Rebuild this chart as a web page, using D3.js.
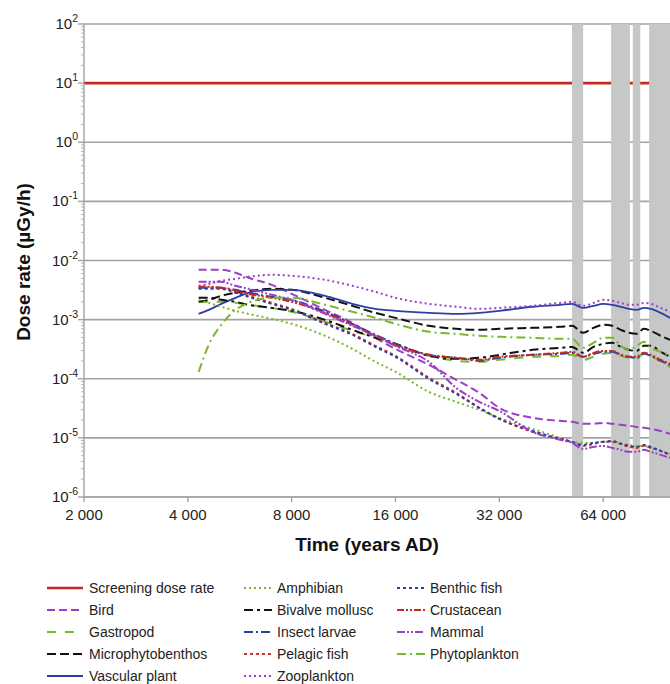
<!DOCTYPE html>
<html><head><meta charset="utf-8">
<script src="https://cdn.jsdelivr.net/npm/d3@7"></script>
<style>
html,body{margin:0;padding:0;background:#fff;}
svg{display:block;font-family:"Liberation Sans",Arial,sans-serif;}
</style></head>
<body><svg id="c" width="670" height="684"></svg>
<script>
// ---- data ----
const times = [4300, 4600, 5000, 5500, 6000, 7000, 8000, 10000, 12000, 14000, 16000, 20000, 24000, 28000, 32000, 40000, 48000, 52000, 56000, 60000, 64000, 68000, 72000, 76000, 80000, 84000, 88000, 94000, 100000];
const screeningTimes = [2000, 100000];
const screening = [10, 10];
const zooplankton = [3.73e-3, 4.03e-3, 4.53e-3, 4.90e-3, 5.30e-3, 5.73e-3, 5.51e-3, 4.71e-3, 3.73e-3, 2.95e-3, 2.34e-3, 1.85e-3, 1.65e-3, 1.52e-3, 1.58e-3, 1.71e-3, 1.92e-3, 2.00e-3, 1.71e-3, 1.92e-3, 2.16e-3, 2.08e-3, 1.92e-3, 1.78e-3, 1.78e-3, 1.92e-3, 1.85e-3, 1.58e-3, 1.36e-3];
const vascularPlant = [1.25e-3, 1.46e-3, 1.85e-3, 2.34e-3, 2.84e-3, 3.19e-3, 3.19e-3, 2.53e-3, 1.85e-3, 1.52e-3, 1.41e-3, 1.30e-3, 1.25e-3, 1.30e-3, 1.41e-3, 1.65e-3, 1.78e-3, 1.85e-3, 1.58e-3, 1.71e-3, 1.85e-3, 1.78e-3, 1.65e-3, 1.52e-3, 1.46e-3, 1.58e-3, 1.52e-3, 1.30e-3, 1.07e-3];
const microphytobenthos = [2.00e-3, 2.16e-3, 2.53e-3, 2.84e-3, 3.07e-3, 3.32e-3, 3.19e-3, 2.34e-3, 1.71e-3, 1.30e-3, 1.07e-3, 7.85e-4, 6.99e-4, 6.72e-4, 6.99e-4, 7.27e-4, 7.55e-4, 7.85e-4, 5.98e-4, 7.27e-4, 8.17e-4, 7.85e-4, 6.72e-4, 5.98e-4, 5.75e-4, 6.99e-4, 6.46e-4, 5.32e-4, 4.55e-4];
const bivalveMollusc = [2.34e-3, 2.34e-3, 2.16e-3, 2.00e-3, 1.78e-3, 1.58e-3, 1.41e-3, 9.92e-4, 6.72e-4, 4.92e-4, 3.90e-4, 2.44e-4, 2.17e-4, 2.26e-4, 2.54e-4, 3.08e-4, 3.33e-4, 3.46e-4, 2.74e-4, 3.46e-4, 3.90e-4, 4.05e-4, 3.46e-4, 3.08e-4, 2.96e-4, 3.60e-4, 3.60e-4, 2.85e-4, 2.35e-4];
const phytoplankton = [1.31e-4, 3.75e-4, 8.17e-4, 1.46e-3, 1.92e-3, 2.34e-3, 2.34e-3, 1.78e-3, 1.36e-3, 1.07e-3, 8.49e-4, 6.22e-4, 5.75e-4, 5.32e-4, 5.12e-4, 4.92e-4, 4.73e-4, 4.73e-4, 3.33e-4, 4.05e-4, 4.92e-4, 4.92e-4, 3.60e-4, 3.08e-4, 3.60e-4, 4.21e-4, 3.33e-4, 2.85e-4, 2.44e-4];
const gastropod = [2.00e-3, 2.00e-3, 2.00e-3, 1.92e-3, 1.78e-3, 1.58e-3, 1.36e-3, 9.18e-4, 6.46e-4, 4.92e-4, 3.60e-4, 2.44e-4, 2.01e-4, 1.93e-4, 2.09e-4, 2.35e-4, 2.44e-4, 2.54e-4, 2.09e-4, 2.35e-4, 2.64e-4, 2.74e-4, 2.44e-4, 2.26e-4, 2.17e-4, 2.74e-4, 2.44e-4, 1.93e-4, 1.59e-4];
const insectLarvae = [3.45e-3, 3.45e-3, 3.45e-3, 3.19e-3, 2.84e-3, 2.43e-3, 2.16e-3, 1.36e-3, 8.49e-4, 5.53e-4, 3.90e-4, 2.54e-4, 2.26e-4, 2.01e-4, 2.26e-4, 2.54e-4, 2.64e-4, 2.74e-4, 2.35e-4, 2.64e-4, 2.85e-4, 2.85e-4, 2.54e-4, 2.35e-4, 2.26e-4, 2.64e-4, 2.44e-4, 2.01e-4, 1.72e-4];
const crustacean = [3.59e-3, 3.59e-3, 3.45e-3, 3.07e-3, 2.73e-3, 2.34e-3, 2.00e-3, 1.30e-3, 8.17e-4, 5.32e-4, 3.75e-4, 2.54e-4, 2.26e-4, 2.09e-4, 2.35e-4, 2.54e-4, 2.74e-4, 2.85e-4, 2.35e-4, 2.74e-4, 2.96e-4, 2.96e-4, 2.54e-4, 2.35e-4, 2.35e-4, 2.74e-4, 2.54e-4, 2.09e-4, 1.79e-4];
const pelagicFish = [3.45e-3, 3.45e-3, 3.45e-3, 2.95e-3, 2.53e-3, 1.92e-3, 1.52e-3, 8.83e-4, 5.75e-4, 3.60e-4, 2.44e-4, 1.04e-4, 5.77e-5, 3.22e-5, 2.10e-5, 1.26e-5, 9.62e-6, 8.56e-6, 7.32e-6, 7.92e-6, 8.56e-6, 8.56e-6, 7.92e-6, 7.04e-6, 6.77e-6, 7.32e-6, 6.77e-6, 6.03e-6, 5.16e-6];
const benthicFish = [3.32e-3, 3.32e-3, 3.32e-3, 2.84e-3, 2.43e-3, 1.85e-3, 1.46e-3, 8.49e-4, 5.53e-4, 3.46e-4, 2.35e-4, 9.96e-5, 5.55e-5, 3.22e-5, 2.10e-5, 1.31e-5, 9.62e-6, 8.56e-6, 7.61e-6, 8.23e-6, 8.56e-6, 8.90e-6, 7.92e-6, 7.32e-6, 7.04e-6, 7.61e-6, 7.04e-6, 6.03e-6, 5.16e-6];
const amphibian = [2.16e-3, 1.92e-3, 1.65e-3, 1.41e-3, 1.25e-3, 1.03e-3, 8.49e-4, 5.32e-4, 3.20e-4, 1.93e-4, 1.31e-4, 6.00e-5, 4.06e-5, 2.98e-5, 2.18e-5, 1.42e-5, 1.00e-5, 8.56e-6, 8.23e-6, 8.23e-6, 8.56e-6, 8.56e-6, 8.23e-6, 7.61e-6, 7.32e-6, 7.32e-6, 6.77e-6, 6.03e-6, 5.36e-6];
const bird = [6.96e-3, 6.96e-3, 6.96e-3, 6.19e-3, 5.10e-3, 3.88e-3, 2.73e-3, 1.46e-3, 8.83e-4, 4.92e-4, 3.20e-4, 1.72e-4, 9.58e-5, 5.77e-5, 3.22e-5, 2.18e-5, 1.94e-5, 1.87e-5, 1.73e-5, 1.73e-5, 1.79e-5, 1.73e-5, 1.66e-5, 1.60e-5, 1.53e-5, 1.48e-5, 1.42e-5, 1.31e-5, 1.17e-5];
const mammal = [4.36e-3, 4.36e-3, 4.36e-3, 3.73e-3, 3.32e-3, 2.63e-3, 2.16e-3, 1.25e-3, 7.85e-4, 5.32e-4, 3.60e-4, 1.93e-4, 7.02e-5, 4.06e-5, 2.86e-5, 1.26e-5, 9.25e-6, 8.23e-6, 6.51e-6, 7.04e-6, 7.32e-6, 6.77e-6, 6.27e-6, 5.80e-6, 5.80e-6, 6.27e-6, 5.80e-6, 5.16e-6, 4.59e-6];
const bandStart = [52000, 67500, 78000, 87000];
const bandEnd = [56000, 76500, 82000, 100000];
const xTicks = [2000, 4000, 8000, 16000, 32000, 64000];
const yTicks = [1e-6, 1e-5, 1e-4, 1e-3, 1e-2, 1e-1, 1, 10, 100];

// ---- styles ----
const RED = "#c8281e", PURPLE = "#9a3fc9", GREEN = "#79b829", BLACK = "#111", BLUE = "#2f3ea6";
const series = [
  {name: "Screening dose rate", t: screeningTimes, v: screening, color: RED, dash: null, w: 2.6, col: 0, row: 0},
  {name: "Bird", t: times, v: bird, color: PURPLE, dash: "8,4", w: 2, col: 0, row: 1},
  {name: "Gastropod", t: times, v: gastropod, color: GREEN, dash: "9,9", w: 2, col: 0, row: 2},
  {name: "Microphytobenthos", t: times, v: microphytobenthos, color: BLACK, dash: "9,4", w: 2, col: 0, row: 3},
  {name: "Vascular plant", t: times, v: vascularPlant, color: BLUE, dash: null, w: 1.8, col: 0, row: 4},
  {name: "Amphibian", t: times, v: amphibian, color: GREEN, dash: "2,3", w: 2, col: 1, row: 0},
  {name: "Bivalve mollusc", t: times, v: bivalveMollusc, color: BLACK, dash: "9,4,3,4", w: 2, col: 1, row: 1},
  {name: "Insect larvae", t: times, v: insectLarvae, color: BLUE, dash: "9,3,2,3", w: 2, col: 1, row: 2},
  {name: "Pelagic fish", t: times, v: pelagicFish, color: "#d8352a", dash: "3,3", w: 2, col: 1, row: 3},
  {name: "Zooplankton", t: times, v: zooplankton, color: PURPLE, dash: "2,3", w: 2, col: 1, row: 4},
  {name: "Benthic fish", t: times, v: benthicFish, color: BLUE, dash: "3,3", w: 2, col: 2, row: 0},
  {name: "Crustacean", t: times, v: crustacean, color: RED, dash: "7,2,2,2,2,2", w: 2, col: 2, row: 1},
  {name: "Mammal", t: times, v: mammal, color: PURPLE, dash: "8,2,2,2,2,2", w: 2, col: 2, row: 2},
  {name: "Phytoplankton", t: times, v: phytoplankton, color: GREEN, dash: "9,4,2,4", w: 2, col: 2, row: 3}
];

// ---- layout ----
const L = 84, R = 670, T = 24, B = 497;
const svg = d3.select("#c");
const x = d3.scaleLog().base(2).domain([2000, 100000]).range([L, R]);
const y = d3.scaleLog().domain([1e-6, 100]).range([B, T]);
const GRID = "#a3a3a3";

// gridlines
svg.append("g").selectAll("line").data(yTicks).join("line")
  .attr("x1", L).attr("x2", R).attr("y1", d => y(d)).attr("y2", d => y(d))
  .attr("stroke", GRID).attr("stroke-width", 1.6);

// screening line (under bands)
const line = d3.line().x(d => x(d[0])).y(d => y(d[1])).curve(d3.curveMonotoneX);
const scr = series[0];
svg.append("path").attr("d", line(scr.t.map((t, i) => [t, scr.v[i]])))
  .attr("fill", "none").attr("stroke", scr.color).attr("stroke-width", scr.w);

// grey bands
svg.append("g").selectAll("rect").data(bandStart).join("rect")
  .attr("x", (d) => x(d)).attr("width", (d, i) => x(bandEnd[i]) - x(d))
  .attr("y", T).attr("height", B - T).attr("fill", "#c6c7c7");

// y axis
const yAxis = svg.append("g");
yAxis.append("line").attr("x1", L).attr("x2", L).attr("y1", T).attr("y2", B).attr("stroke", GRID).attr("stroke-width", 1.4);
const minors = [];
for (let e = -6; e < 2; e++) for (let m = 2; m <= 9; m++) minors.push(m * Math.pow(10, e));
yAxis.selectAll("line.mi").data(minors).join("line").attr("class", "mi")
  .attr("x1", L - 3).attr("x2", L).attr("y1", d => y(d)).attr("y2", d => y(d))
  .attr("stroke", GRID).attr("stroke-width", 0.8);
yAxis.selectAll("line.ma").data(yTicks).join("line").attr("class", "ma")
  .attr("x1", L - 6).attr("x2", L).attr("y1", d => y(d)).attr("y2", d => y(d))
  .attr("stroke", GRID).attr("stroke-width", 1.4);
const yl = yAxis.selectAll("text").data(yTicks).join("text")
  .attr("x", L - 6).attr("y", d => y(d) + 5).attr("text-anchor", "end")
  .attr("font-size", 15).attr("fill", "#222");
yl.append("tspan").text("10");
yl.append("tspan").attr("dy", -7).attr("font-size", 10.5).text(d => Math.round(Math.log10(d)));

// x axis
const xAxis = svg.append("g");
xAxis.append("line").attr("x1", L).attr("x2", R).attr("y1", B).attr("y2", B).attr("stroke", GRID).attr("stroke-width", 1.6);
xAxis.selectAll("line.t").data(xTicks).join("line").attr("class", "t")
  .attr("x1", d => x(d)).attr("x2", d => x(d)).attr("y1", B).attr("y2", B + 5)
  .attr("stroke", GRID).attr("stroke-width", 1.4);
const fmt = d3.formatLocale({decimal: ".", thousands: " ", grouping: [3], currency: ["", ""]}).format(",d");
xAxis.selectAll("text").data(xTicks).join("text")
  .attr("x", d => x(d)).attr("y", B + 23).attr("text-anchor", "middle")
  .attr("font-size", 15).attr("fill", "#222").text(d => fmt(d));

// titles
svg.append("text").attr("x", 367).attr("y", 551).attr("text-anchor", "middle")
  .attr("font-size", 19).attr("font-weight", "bold").attr("fill", "#111").text("Time (years AD)");
svg.append("text").attr("transform", "translate(30,262) rotate(-90)").attr("text-anchor", "middle")
  .attr("font-size", 19).attr("font-weight", "bold").attr("fill", "#111").text("Dose rate (µGy/h)");

// data lines
series.slice(1).forEach(s => {
  svg.append("path").attr("d", line(s.t.map((t, i) => [t, s.v[i]])))
    .attr("fill", "none").attr("stroke", s.color).attr("stroke-width", s.w)
    .attr("stroke-dasharray", s.dash);
});

// legend
const colX = [[47, 83, 89], [244, 272, 277], [397, 425, 430]];
const rowY = [588, 610, 632, 654, 676];
const lg = svg.append("g");
series.forEach(s => {
  const c = colX[s.col], yy = rowY[s.row];
  lg.append("line").attr("x1", c[0]).attr("x2", c[1]).attr("y1", yy).attr("y2", yy)
    .attr("stroke", s.color).attr("stroke-width", s.w).attr("stroke-dasharray", s.dash);
  lg.append("text").attr("x", c[2]).attr("y", yy + 5).attr("font-size", 14).attr("fill", "#222").text(s.name);
});
</script></body></html>
